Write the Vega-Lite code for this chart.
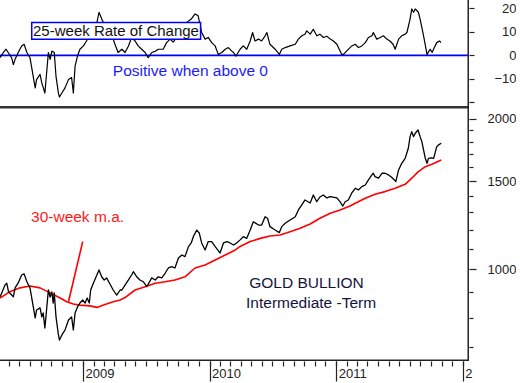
{
  "$schema": "https://vega.github.io/schema/vega-lite/v6.json",
  "padding": 0,
  "background": "white",
  "spacing": 0,
  "bounds": "flush",
  "config": {
    "view": {"stroke": null},
    "font": "Liberation Sans",
    "axis": {"grid": false, "domain": false, "labelFont": "Liberation Sans", "labelFontSize": 13, "labelColor": "#222", "tickColor": "#222", "tickWidth": 1.2, "labelBound": false, "labelFlush": false, "labelOverlap": false}
  },
  "datasets": {
    "gold": [
      {"date": "2008-05-07", "price": 881}, {"date": "2008-05-21", "price": 930}, {"date": "2008-05-26", "price": 938}, {"date": "2008-05-31", "price": 902},
      {"date": "2008-06-14", "price": 881}, {"date": "2008-06-19", "price": 918}, {"date": "2008-06-28", "price": 939}, {"date": "2008-07-08", "price": 974},
      {"date": "2008-07-15", "price": 979}, {"date": "2008-07-23", "price": 944}, {"date": "2008-08-01", "price": 918}, {"date": "2008-08-11", "price": 837},
      {"date": "2008-08-16", "price": 799}, {"date": "2008-08-20", "price": 829}, {"date": "2008-08-30", "price": 837}, {"date": "2008-09-04", "price": 803},
      {"date": "2008-09-08", "price": 818}, {"date": "2008-09-13", "price": 763}, {"date": "2008-09-23", "price": 909}, {"date": "2008-09-28", "price": 880},
      {"date": "2008-10-03", "price": 901}, {"date": "2008-10-07", "price": 856}, {"date": "2008-10-10", "price": 897}, {"date": "2008-10-15", "price": 803},
      {"date": "2008-10-22", "price": 739}, {"date": "2008-10-25", "price": 722}, {"date": "2008-11-01", "price": 739}, {"date": "2008-11-10", "price": 756},
      {"date": "2008-11-20", "price": 792}, {"date": "2008-11-29", "price": 803}, {"date": "2008-12-04", "price": 756}, {"date": "2008-12-09", "price": 818},
      {"date": "2008-12-16", "price": 841}, {"date": "2008-12-23", "price": 856}, {"date": "2008-12-31", "price": 868}, {"date": "2009-01-07", "price": 856},
      {"date": "2009-01-13", "price": 876}, {"date": "2009-01-19", "price": 856}, {"date": "2009-01-23", "price": 909}, {"date": "2009-01-31", "price": 939},
      {"date": "2009-02-16", "price": 997}, {"date": "2009-02-24", "price": 965}, {"date": "2009-03-03", "price": 952}, {"date": "2009-03-10", "price": 961},
      {"date": "2009-03-18", "price": 939}, {"date": "2009-03-29", "price": 909}, {"date": "2009-04-08", "price": 888}, {"date": "2009-04-18", "price": 909},
      {"date": "2009-04-23", "price": 909}, {"date": "2009-05-02", "price": 930}, {"date": "2009-05-12", "price": 952}, {"date": "2009-05-21", "price": 974},
      {"date": "2009-05-26", "price": 989}, {"date": "2009-06-05", "price": 966}, {"date": "2009-06-14", "price": 952}, {"date": "2009-06-24", "price": 944},
      {"date": "2009-07-04", "price": 923}, {"date": "2009-07-18", "price": 961}, {"date": "2009-07-28", "price": 952}, {"date": "2009-08-06", "price": 966},
      {"date": "2009-08-16", "price": 961}, {"date": "2009-08-26", "price": 983}, {"date": "2009-09-04", "price": 1006}, {"date": "2009-09-14", "price": 1012},
      {"date": "2009-09-23", "price": 1006}, {"date": "2009-10-03", "price": 1053}, {"date": "2009-10-13", "price": 1068}, {"date": "2009-10-22", "price": 1060},
      {"date": "2009-11-01", "price": 1110}, {"date": "2009-11-09", "price": 1129}, {"date": "2009-11-15", "price": 1162}, {"date": "2009-11-25", "price": 1198},
      {"date": "2009-12-02", "price": 1182}, {"date": "2009-12-09", "price": 1129}, {"date": "2009-12-19", "price": 1093}, {"date": "2009-12-28", "price": 1136},
      {"date": "2010-01-07", "price": 1136}, {"date": "2010-01-17", "price": 1110}, {"date": "2010-01-31", "price": 1078}, {"date": "2010-02-10", "price": 1129},
      {"date": "2010-02-20", "price": 1136}, {"date": "2010-03-01", "price": 1129}, {"date": "2010-03-11", "price": 1118}, {"date": "2010-03-20", "price": 1129},
      {"date": "2010-03-30", "price": 1145}, {"date": "2010-04-08", "price": 1162}, {"date": "2010-04-18", "price": 1153}, {"date": "2010-04-28", "price": 1198},
      {"date": "2010-05-07", "price": 1245}, {"date": "2010-05-22", "price": 1226}, {"date": "2010-05-31", "price": 1226}, {"date": "2010-06-10", "price": 1274},
      {"date": "2010-06-17", "price": 1265}, {"date": "2010-06-24", "price": 1217}, {"date": "2010-07-09", "price": 1198}, {"date": "2010-07-21", "price": 1184},
      {"date": "2010-07-28", "price": 1217}, {"date": "2010-08-07", "price": 1236}, {"date": "2010-08-21", "price": 1255}, {"date": "2010-09-05", "price": 1274},
      {"date": "2010-09-14", "price": 1314}, {"date": "2010-09-24", "price": 1345}, {"date": "2010-10-03", "price": 1376}, {"date": "2010-10-18", "price": 1357},
      {"date": "2010-10-27", "price": 1408}, {"date": "2010-11-06", "price": 1365}, {"date": "2010-11-15", "price": 1395}, {"date": "2010-11-25", "price": 1408},
      {"date": "2010-12-05", "price": 1389}, {"date": "2010-12-15", "price": 1397}, {"date": "2011-01-03", "price": 1389}, {"date": "2011-01-12", "price": 1365},
      {"date": "2011-01-20", "price": 1338}, {"date": "2011-01-27", "price": 1365}, {"date": "2011-02-05", "price": 1376}, {"date": "2011-02-15", "price": 1421},
      {"date": "2011-02-25", "price": 1452}, {"date": "2011-03-06", "price": 1441}, {"date": "2011-03-16", "price": 1463}, {"date": "2011-03-26", "price": 1474},
      {"date": "2011-04-04", "price": 1509}, {"date": "2011-04-14", "price": 1544}, {"date": "2011-04-18", "price": 1556}, {"date": "2011-04-23", "price": 1532},
      {"date": "2011-05-03", "price": 1521}, {"date": "2011-05-13", "price": 1556}, {"date": "2011-05-22", "price": 1556}, {"date": "2011-06-01", "price": 1544},
      {"date": "2011-06-09", "price": 1530}, {"date": "2011-06-18", "price": 1509}, {"date": "2011-06-22", "price": 1497}, {"date": "2011-06-30", "price": 1580},
      {"date": "2011-07-09", "price": 1629}, {"date": "2011-07-19", "price": 1667}, {"date": "2011-07-28", "price": 1746}, {"date": "2011-08-02", "price": 1842},
      {"date": "2011-08-07", "price": 1885}, {"date": "2011-08-12", "price": 1842}, {"date": "2011-08-17", "price": 1871}, {"date": "2011-08-25", "price": 1899},
      {"date": "2011-08-31", "price": 1842}, {"date": "2011-09-05", "price": 1800}, {"date": "2011-09-15", "price": 1667}, {"date": "2011-09-20", "price": 1629},
      {"date": "2011-09-24", "price": 1667}, {"date": "2011-10-02", "price": 1670}, {"date": "2011-10-09", "price": 1667}, {"date": "2011-10-18", "price": 1759},
      {"date": "2011-10-23", "price": 1773}, {"date": "2011-10-31", "price": 1787}
    ],
    "ma": [
      {"date": "2008-05-07", "price": 876}, {"date": "2008-06-04", "price": 902}, {"date": "2008-07-03", "price": 918}, {"date": "2008-08-01", "price": 926},
      {"date": "2008-08-30", "price": 918}, {"date": "2008-09-28", "price": 897}, {"date": "2008-10-27", "price": 876}, {"date": "2008-11-15", "price": 861},
      {"date": "2008-12-04", "price": 852}, {"date": "2008-12-23", "price": 848}, {"date": "2009-01-21", "price": 845}, {"date": "2009-02-10", "price": 839},
      {"date": "2009-03-01", "price": 848}, {"date": "2009-03-29", "price": 861}, {"date": "2009-04-18", "price": 868}, {"date": "2009-05-02", "price": 878},
      {"date": "2009-05-31", "price": 909}, {"date": "2009-06-29", "price": 923}, {"date": "2009-07-28", "price": 938}, {"date": "2009-08-26", "price": 944},
      {"date": "2009-09-23", "price": 952}, {"date": "2009-10-22", "price": 966}, {"date": "2009-11-20", "price": 1006}, {"date": "2009-12-19", "price": 1020},
      {"date": "2010-01-17", "price": 1044}, {"date": "2010-02-15", "price": 1068}, {"date": "2010-03-16", "price": 1093}, {"date": "2010-03-30", "price": 1111},
      {"date": "2010-04-28", "price": 1136}, {"date": "2010-05-27", "price": 1153}, {"date": "2010-06-24", "price": 1166}, {"date": "2010-07-23", "price": 1171},
      {"date": "2010-08-21", "price": 1189}, {"date": "2010-09-19", "price": 1208}, {"date": "2010-10-18", "price": 1232}, {"date": "2010-11-15", "price": 1265},
      {"date": "2010-12-15", "price": 1294}, {"date": "2011-01-12", "price": 1314}, {"date": "2011-02-10", "price": 1338}, {"date": "2011-02-25", "price": 1355},
      {"date": "2011-03-26", "price": 1387}, {"date": "2011-04-23", "price": 1413}, {"date": "2011-05-22", "price": 1430}, {"date": "2011-06-20", "price": 1452},
      {"date": "2011-07-19", "price": 1479}, {"date": "2011-08-07", "price": 1521}, {"date": "2011-08-26", "price": 1568}, {"date": "2011-09-15", "price": 1604},
      {"date": "2011-10-04", "price": 1622}, {"date": "2011-10-31", "price": 1654}
    ],
    "roc": [
      {"date": "2008-05-07", "roc": -1.0}, {"date": "2008-05-16", "roc": 1.2}, {"date": "2008-05-24", "roc": 2.6}, {"date": "2008-06-09", "roc": -1.0},
      {"date": "2008-06-14", "roc": -3.9}, {"date": "2008-06-19", "roc": -1.7}, {"date": "2008-06-28", "roc": 1.2}, {"date": "2008-07-08", "roc": 4.0},
      {"date": "2008-07-15", "roc": 4.7}, {"date": "2008-07-23", "roc": 1.2}, {"date": "2008-08-01", "roc": -1.0}, {"date": "2008-08-11", "roc": -9.6},
      {"date": "2008-08-16", "roc": -13.8}, {"date": "2008-08-20", "roc": -10.3}, {"date": "2008-08-30", "roc": -8.1}, {"date": "2008-09-04", "roc": -11.7},
      {"date": "2008-09-13", "roc": -16.0}, {"date": "2008-09-23", "roc": 1.2}, {"date": "2008-09-28", "roc": -1.7}, {"date": "2008-10-03", "roc": 1.8},
      {"date": "2008-10-10", "roc": 1.2}, {"date": "2008-10-15", "roc": -8.9}, {"date": "2008-10-22", "roc": -16.0}, {"date": "2008-10-25", "roc": -17.7},
      {"date": "2008-11-01", "roc": -16.0}, {"date": "2008-11-10", "roc": -13.8}, {"date": "2008-11-20", "roc": -10.3}, {"date": "2008-11-29", "roc": -9.4},
      {"date": "2008-12-04", "roc": -16.0}, {"date": "2008-12-09", "roc": -4.6}, {"date": "2008-12-16", "roc": -0.3}, {"date": "2008-12-23", "roc": 2.6},
      {"date": "2009-01-02", "roc": 4.0}, {"date": "2009-01-11", "roc": 6.1}, {"date": "2009-01-21", "roc": 9.0}, {"date": "2009-01-31", "roc": 12.6},
      {"date": "2009-02-10", "roc": 14.0}, {"date": "2009-02-16", "roc": 18.3}, {"date": "2009-02-24", "roc": 15.4}, {"date": "2009-03-05", "roc": 12.6},
      {"date": "2009-03-15", "roc": 11.1}, {"date": "2009-03-24", "roc": 9.0}, {"date": "2009-04-03", "roc": 4.7}, {"date": "2009-04-12", "roc": 1.2},
      {"date": "2009-04-23", "roc": 2.6}, {"date": "2009-05-02", "roc": 1.2}, {"date": "2009-05-12", "roc": 4.0}, {"date": "2009-05-21", "roc": 7.6},
      {"date": "2009-05-31", "roc": 6.1}, {"date": "2009-06-09", "roc": 4.0}, {"date": "2009-06-19", "roc": 2.6}, {"date": "2009-06-29", "roc": 1.2},
      {"date": "2009-07-08", "roc": -1.0}, {"date": "2009-07-18", "roc": 1.2}, {"date": "2009-07-28", "roc": 1.7}, {"date": "2009-08-06", "roc": 2.6},
      {"date": "2009-08-20", "roc": 2.6}, {"date": "2009-08-30", "roc": 5.4}, {"date": "2009-09-09", "roc": 6.9}, {"date": "2009-09-18", "roc": 5.6},
      {"date": "2009-09-28", "roc": 7.6}, {"date": "2009-10-08", "roc": 9.0}, {"date": "2009-10-27", "roc": 14.0}, {"date": "2009-11-09", "roc": 15.4},
      {"date": "2009-11-20", "roc": 17.6}, {"date": "2009-11-29", "roc": 16.8}, {"date": "2009-12-09", "roc": 9.7}, {"date": "2009-12-19", "roc": 6.9},
      {"date": "2009-12-28", "roc": 7.6}, {"date": "2010-01-07", "roc": 5.4}, {"date": "2010-01-17", "roc": 4.0}, {"date": "2010-01-26", "roc": 0.4},
      {"date": "2010-02-05", "roc": 1.2}, {"date": "2010-02-15", "roc": 2.6}, {"date": "2010-02-24", "roc": 3.3}, {"date": "2010-03-06", "roc": 1.8},
      {"date": "2010-03-11", "roc": 1.2}, {"date": "2010-03-18", "roc": -0.3}, {"date": "2010-03-30", "roc": 2.6}, {"date": "2010-04-08", "roc": 4.0},
      {"date": "2010-04-18", "roc": 2.6}, {"date": "2010-04-28", "roc": 6.1}, {"date": "2010-05-05", "roc": 9.7}, {"date": "2010-05-12", "roc": 6.1},
      {"date": "2010-05-22", "roc": 6.9}, {"date": "2010-05-31", "roc": 6.1}, {"date": "2010-06-10", "roc": 8.3}, {"date": "2010-06-15", "roc": 9.7},
      {"date": "2010-06-24", "roc": 4.7}, {"date": "2010-07-09", "roc": 2.6}, {"date": "2010-07-21", "roc": 0.4}, {"date": "2010-07-28", "roc": 2.6},
      {"date": "2010-08-07", "roc": 3.3}, {"date": "2010-08-21", "roc": 4.0}, {"date": "2010-09-05", "roc": 4.7}, {"date": "2010-09-14", "roc": 6.9},
      {"date": "2010-09-24", "roc": 8.3}, {"date": "2010-10-03", "roc": 9.0}, {"date": "2010-10-08", "roc": 10.4}, {"date": "2010-10-18", "roc": 9.0},
      {"date": "2010-10-27", "roc": 11.1}, {"date": "2010-11-06", "roc": 8.3}, {"date": "2010-11-15", "roc": 9.0}, {"date": "2010-11-25", "roc": 7.6},
      {"date": "2010-12-05", "roc": 8.1}, {"date": "2010-12-15", "roc": 6.9}, {"date": "2010-12-24", "roc": 6.1}, {"date": "2011-01-03", "roc": 4.7},
      {"date": "2011-01-17", "roc": 0.4}, {"date": "2011-01-22", "roc": 0.4}, {"date": "2011-01-31", "roc": 1.8}, {"date": "2011-02-15", "roc": 4.0},
      {"date": "2011-02-25", "roc": 4.7}, {"date": "2011-03-06", "roc": 3.3}, {"date": "2011-03-16", "roc": 4.0}, {"date": "2011-03-26", "roc": 5.4},
      {"date": "2011-04-04", "roc": 7.6}, {"date": "2011-04-14", "roc": 8.3}, {"date": "2011-04-18", "roc": 9.7}, {"date": "2011-04-28", "roc": 6.9},
      {"date": "2011-05-08", "roc": 7.6}, {"date": "2011-05-17", "roc": 8.3}, {"date": "2011-05-27", "roc": 6.9}, {"date": "2011-06-05", "roc": 6.1},
      {"date": "2011-06-14", "roc": 4.7}, {"date": "2011-06-20", "roc": 2.6}, {"date": "2011-06-30", "roc": 6.9}, {"date": "2011-07-09", "roc": 8.3},
      {"date": "2011-07-19", "roc": 9.0}, {"date": "2011-07-24", "roc": 9.7}, {"date": "2011-08-02", "roc": 15.4}, {"date": "2011-08-07", "roc": 19.7},
      {"date": "2011-08-12", "roc": 18.3}, {"date": "2011-08-17", "roc": 19.7}, {"date": "2011-08-26", "roc": 18.3}, {"date": "2011-08-31", "roc": 15.4},
      {"date": "2011-09-10", "roc": 8.3}, {"date": "2011-09-20", "roc": 0.4}, {"date": "2011-09-29", "roc": 2.6}, {"date": "2011-10-05", "roc": 1.3},
      {"date": "2011-10-11", "roc": 3.3}, {"date": "2011-10-18", "roc": 5.4}, {"date": "2011-10-26", "roc": 6.1}, {"date": "2011-10-30", "roc": 5.4}
    ]
  },
  "vconcat": [
    {
      "width": 469,
      "height": 106,
      "resolve": {"axis": {"x": "independent", "y": "independent"}},
      "layer": [
        {
          "data": {"values": [{}]},
          "mark": {"type": "rule", "color": "#0000ff", "strokeWidth": 1.6, "clip": true},
          "encoding": {"y": {"datum": 0, "type": "quantitative", "scale": {"domain": [-21.5, 23.5], "nice": false, "zero": false}, "axis": null}}
        },
        {
          "data": {"name": "roc"},
          "mark": {"type": "line", "color": "#000000", "strokeWidth": 1.2, "strokeJoin": "round", "clip": true},
          "encoding": {
            "x": {"field": "date", "type": "temporal",
                  "scale": {"type": "utc", "domain": [{"year": 2008, "month": 5, "date": 6, "hours": 12, "utc": true}, {"year": 2012, "month": 1, "date": 19, "utc": true}]},
                  "axis": null},
            "y": {"field": "roc", "type": "quantitative", "scale": {"domain": [-21.5, 23.5], "nice": false, "zero": false},
                  "axis": {"orient": "right", "values": [-20, -10, 0, 10, 20], "tickSize": 5, "labelAlign": "right", "labelPadding": 42, "labelExpr": "datum.value == -20 ? '' : datum.label", "title": null}}
          }
        },
        {
          "data": {"values": [{}]},
          "mark": {"type": "rule", "color": "#222", "strokeWidth": 1.5, "clip": true},
          "encoding": {"x": {"datum": {"year": 2012, "month": 1, "date": 16, "hours": 19, "utc": true}, "type": "temporal", "axis": null}}
        },
        {
          "data": {"values": [{}]},
          "mark": {"type": "rect", "fill": "white", "stroke": "#0000ff", "strokeWidth": 1.5},
          "encoding": {
            "x": {"datum": {"year": 2008, "month": 8, "date": 6, "utc": true}, "type": "temporal", "axis": null},
            "x2": {"datum": {"year": 2009, "month": 12, "date": 6, "utc": true}},
            "y": {"datum": 13.9, "type": "quantitative", "axis": null},
            "y2": {"datum": 6.8}
          }
        },
        {
          "data": {"values": [{}]},
          "mark": {"type": "text", "text": "25-week Rate of Change", "font": "Liberation Sans", "fontSize": 15, "color": "#111", "align": "center", "baseline": "middle"},
          "encoding": {
            "x": {"datum": {"year": 2009, "month": 4, "date": 6, "utc": true}, "type": "temporal", "axis": null},
            "y": {"datum": 10.4, "type": "quantitative", "axis": null}
          }
        },
        {
          "data": {"values": [{}]},
          "mark": {"type": "text", "text": "Positive when above 0", "font": "Liberation Sans", "fontSize": 15.5, "color": "#1a1aff", "align": "left", "baseline": "middle"},
          "encoding": {
            "x": {"datum": {"year": 2009, "month": 3, "date": 28, "utc": true}, "type": "temporal", "axis": null},
            "y": {"datum": -6.6, "type": "quantitative", "axis": null}
          }
        }
      ]
    },
    {
      "width": 469,
      "height": 255,
      "resolve": {"axis": {"x": "independent", "y": "independent"}},
      "layer": [
        {
          "data": {"name": "ma"},
          "mark": {"type": "line", "color": "#ff0000", "strokeWidth": 1.6, "strokeJoin": "round", "clip": true},
          "encoding": {
            "x": {"field": "date", "type": "temporal",
                  "scale": {"type": "utc", "domain": [{"year": 2008, "month": 5, "date": 6, "hours": 12, "utc": true}, {"year": 2012, "month": 1, "date": 19, "utc": true}]},
                  "axis": {"orient": "bottom", "tickCount": {"interval": "month", "step": 1}, "labels": false, "tickSize": 5, "title": null}},
            "y": {"field": "price", "type": "quantitative", "scale": {"type": "log", "domain": [655.5, 2121], "nice": false}, "axis": null}
          }
        },
        {
          "data": {"name": "gold"},
          "mark": {"type": "line", "color": "#000000", "strokeWidth": 1.3, "strokeJoin": "round", "clip": true},
          "encoding": {
            "x": {"field": "date", "type": "temporal",
                  "axis": {"orient": "bottom", "values": [{"year": 2009, "month": 1, "date": 1, "utc": true}, {"year": 2010, "month": 1, "date": 1, "utc": true}, {"year": 2011, "month": 1, "date": 1, "utc": true}, {"year": 2012, "month": 1, "date": 1, "utc": true}],
                           "tickSize": 20, "labelAlign": "left", "labelOffset": 2, "labelPadding": -14, "labelBaseline": "top",
                           "labelExpr": "utcFormat(datum.value, '%Y') == '2012' ? '2' : utcFormat(datum.value, '%Y')", "title": null}},
            "y": {"field": "price", "type": "quantitative",
                  "axis": {"orient": "right", "values": [700, 800, 900, 1000, 1100, 1200, 1300, 1400, 1500, 1600, 1700, 1800, 1900, 2000],
                           "tickSize": {"condition": {"test": "datum.value == 1000 || datum.value == 1500 || datum.value == 2000", "value": 7}, "value": 4},
                           "labelAlign": "right", "labelPadding": 40,
                           "labelExpr": "datum.value == 1000 || datum.value == 1500 || datum.value == 2000 ? format(datum.value, 'd') : ''", "title": null}}
          }
        },
        {
          "data": {"values": [{}]},
          "mark": {"type": "rule", "color": "#333", "strokeWidth": 2.5, "clip": true},
          "encoding": {"y": {"datum": 2110, "type": "quantitative", "axis": null}}
        },
        {
          "data": {"values": [{}]},
          "mark": {"type": "rule", "color": "#222", "strokeWidth": 1.5, "clip": true},
          "encoding": {"y": {"datum": 658, "type": "quantitative", "axis": null}}
        },
        {
          "data": {"values": [{}]},
          "mark": {"type": "rule", "color": "#222", "strokeWidth": 1.5, "clip": true},
          "encoding": {"x": {"datum": {"year": 2012, "month": 1, "date": 16, "hours": 19, "utc": true}, "type": "temporal", "axis": null}}
        },
        {
          "data": {"values": [{}]},
          "mark": {"type": "rule", "color": "#ff0000", "strokeWidth": 1.6},
          "encoding": {
            "x": {"datum": {"year": 2008, "month": 11, "date": 20, "utc": true}, "type": "temporal", "axis": null},
            "x2": {"datum": {"year": 2008, "month": 12, "date": 31, "utc": true}},
            "y": {"datum": 861, "type": "quantitative", "axis": null},
            "y2": {"datum": 1136}
          }
        },
        {
          "data": {"values": [{}]},
          "mark": {"type": "text", "text": "30-week m.a.", "font": "Liberation Sans", "fontSize": 15.5, "color": "#ff1a1a", "align": "left", "baseline": "middle"},
          "encoding": {
            "x": {"datum": {"year": 2008, "month": 8, "date": 4, "utc": true}, "type": "temporal", "axis": null},
            "y": {"datum": 1272, "type": "quantitative", "axis": null}
          }
        },
        {
          "data": {"values": [{}]},
          "mark": {"type": "text", "text": "GOLD BULLION", "font": "Liberation Sans", "fontSize": 15.5, "color": "#14143c", "align": "left", "baseline": "middle"},
          "encoding": {
            "x": {"datum": {"year": 2010, "month": 4, "date": 25, "utc": true}, "type": "temporal", "axis": null},
            "y": {"datum": 939, "type": "quantitative", "axis": null}
          }
        },
        {
          "data": {"values": [{}]},
          "mark": {"type": "text", "text": "Intermediate -Term", "font": "Liberation Sans", "fontSize": 15.5, "color": "#14143c", "align": "left", "baseline": "middle"},
          "encoding": {
            "x": {"datum": {"year": 2010, "month": 4, "date": 16, "utc": true}, "type": "temporal", "axis": null},
            "y": {"datum": 856, "type": "quantitative", "axis": null}
          }
        }
      ]
    }
  ]
}
